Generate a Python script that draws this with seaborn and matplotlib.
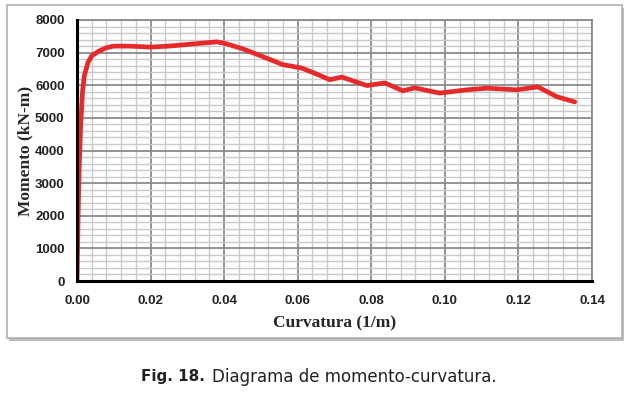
import matplotlib
matplotlib.use("Agg")
import matplotlib.pyplot as plt
from matplotlib.patches import Rectangle
from matplotlib.ticker import MultipleLocator, FormatStrFormatter
import seaborn as sns

# momento-curvatura
curvatura = [0.0, 0.0003, 0.0006, 0.001, 0.0015, 0.002, 0.003, 0.004, 0.006, 0.008,
             0.010, 0.014, 0.020, 0.025, 0.030, 0.035, 0.038, 0.040, 0.045, 0.050,
             0.056, 0.061, 0.065, 0.0687, 0.072, 0.0788, 0.0837, 0.0886, 0.0918,
             0.0986, 0.106, 0.1114, 0.1196, 0.1253, 0.1304, 0.1353]
momento = [0, 2000, 3500, 4800, 5800, 6300, 6700, 6900, 7050, 7150,
           7200, 7200, 7170, 7200, 7250, 7300, 7330, 7290, 7120, 6900,
           6630, 6530, 6350, 6170, 6250, 5990, 6070, 5830, 5920,
           5760, 5860, 5910, 5860, 5950, 5650, 5490]

x_ticks = [0.00, 0.02, 0.04, 0.06, 0.08, 0.10, 0.12, 0.14]
y_ticks = [0, 1000, 2000, 3000, 4000, 5000, 6000, 7000, 8000]

sns.set_style("white")
plt.rcParams["font.family"] = ["Liberation Sans", "DejaVu Sans"]

fig = plt.figure(figsize=(6.29, 3.93), dpi=100)

# framed box with a soft shadow
fig.patches.append(Rectangle((9 / 629, 52 / 393), 615 / 629, 333 / 393, transform=fig.transFigure,
                             facecolor="#bdbdbd", edgecolor="none", zorder=0))
fig.patches.append(Rectangle((7 / 629, 55 / 393), 615 / 629, 333 / 393, transform=fig.transFigure,
                             facecolor="white", edgecolor="#b0b0b0", linewidth=1.2, zorder=1))

ax = fig.add_axes([77 / 629, 112 / 393, 515 / 629, 261 / 393])
ax.set_zorder(2)

sns.lineplot(x=curvatura, y=momento, color="#e62a2c", linewidth=3.4, sort=False, ax=ax, zorder=5)

ax.set_xlim(0, 0.14)
ax.set_ylim(0, 8000)
ax.set_xticks(x_ticks)
ax.set_yticks(y_ticks)
ax.xaxis.set_major_formatter(FormatStrFormatter("%.2f"))
ax.xaxis.set_minor_locator(MultipleLocator(0.004))
ax.yaxis.set_minor_locator(MultipleLocator(200))

ax.grid(which="minor", color="#c9c9c9", linewidth=1.0)
ax.grid(which="major", color="#8a8a8a", linewidth=1.3)
ax.set_axisbelow(True)

for side in ["left", "bottom"]:
    ax.spines[side].set_color("black")
    ax.spines[side].set_linewidth(2.2)
    ax.spines[side].set_zorder(6)
for side in ["top", "right"]:
    ax.spines[side].set_color("#8a8a8a")
    ax.spines[side].set_linewidth(1.3)

ax.tick_params(which="major", direction="out", length=4, width=2, color="black")
ax.tick_params(axis="x", pad=6)
ax.tick_params(axis="y", pad=5)
ax.tick_params(which="minor", length=0)
for lbl in ax.get_xticklabels() + ax.get_yticklabels():
    lbl.set_fontsize(9.5)
    lbl.set_fontweight("bold")
    lbl.set_color("#222222")

serif = ["Liberation Serif", "DejaVu Serif"]
ax.set_xlabel("Curvatura (1/m)", fontsize=12.5, fontweight="bold", family=serif)
ax.set_ylabel("Momento (kN-m)", fontsize=12.5, fontweight="bold", family=serif)
ax.xaxis.set_label_coords(0.5, -0.13)
ax.yaxis.set_label_coords(-0.084, 0.5)

fig.text(205 / 629, 1 - 377 / 393, "Fig. 18.", fontsize=11, fontweight="bold",
         family=["DejaVu Sans"], va="center", ha="right", color="#222222")
fig.text(212 / 629, 1 - 377 / 393, "Diagrama de momento-curvatura.", fontsize=12,
         family=["DejaVu Sans"], va="center", ha="left", color="#222222")

fig.savefig("out.png", dpi=100)
